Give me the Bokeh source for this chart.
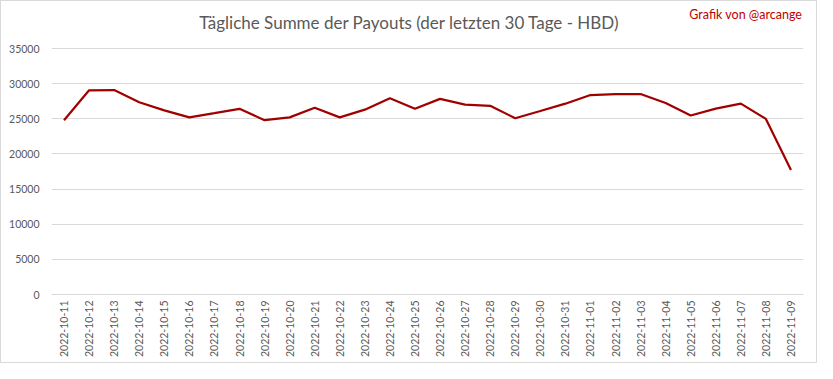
from bokeh.plotting import figure
from bokeh.models import Label, Range1d, FactorRange, FixedTicker
from bokeh.embed import file_html
from bokeh.resources import INLINE
from math import pi

dates = ["2022-10-11", "2022-10-12", "2022-10-13", "2022-10-14", "2022-10-15",
         "2022-10-16", "2022-10-17", "2022-10-18", "2022-10-19", "2022-10-20",
         "2022-10-21", "2022-10-22", "2022-10-23", "2022-10-24", "2022-10-25",
         "2022-10-26", "2022-10-27", "2022-10-28", "2022-10-29", "2022-10-30",
         "2022-10-31", "2022-11-01", "2022-11-02", "2022-11-03", "2022-11-04",
         "2022-11-05", "2022-11-06", "2022-11-07", "2022-11-08", "2022-11-09"]
payouts = [24800, 29050, 29080, 27350, 26200,
           25200, 25800, 26420, 24800, 25200,
           26580, 25200, 26300, 27920, 26420,
           27830, 27020, 26850, 25080, 26100,
           27150, 28380, 28520, 28520, 27250,
           25460, 26450, 27150, 24980, 17700]
y_ticks = [0, 5000, 10000, 15000, 20000, 25000, 30000, 35000]

title_text = "Tägliche Summe der Payouts (der letzten 30 Tage - HBD)"
credit_text = "Grafik von @arcange"

FONT = "Lato"
GRAY = "#595959"

# frame extends to the top of the canvas so that the title texts are drawn inside it
H, TOP_GAP, BOTTOM = 363, 47, 70
frame_h = H - BOTTOM
y_end = 35000 * frame_h / (frame_h - TOP_GAP)
per_px = y_end / frame_h

p = figure(width=817, height=H, x_range=FactorRange(*dates, range_padding=0),
           y_range=Range1d(0, y_end), output_backend="svg", toolbar_location=None,
           min_border_left=50, min_border_right=15, min_border_top=0, min_border_bottom=BOTTOM,
           styles={"border": "1px solid #d9d9d9", "box-sizing": "border-box"})

p.line(dates, payouts, line_color="#a00000", line_width=2.2)

p.outline_line_color = None
p.xgrid.grid_line_color = None
p.ygrid.grid_line_color = "#d9d9d9"
p.ygrid.grid_line_width = 1

p.yaxis.ticker = FixedTicker(ticks=y_ticks)
p.yaxis.axis_line_color = None
p.yaxis.major_tick_line_color = None
p.yaxis.minor_tick_line_color = None
p.yaxis.major_tick_out = 0
p.yaxis.major_label_standoff = 12
p.yaxis.major_label_text_font = FONT
p.yaxis.major_label_text_font_size = "10.5px"
p.yaxis.major_label_text_color = GRAY

p.xaxis.axis_line_color = "#d9d9d9"
p.xaxis.major_tick_line_color = None
p.xaxis.minor_tick_line_color = None
p.xaxis.major_tick_out = 0
p.xaxis.major_label_orientation = pi / 2
p.xaxis.major_label_standoff = 6
p.xaxis.major_label_text_font = FONT
p.xaxis.major_label_text_font_size = "10.5px"
p.xaxis.major_label_text_color = GRAY

n = len(dates)
p.add_layout(Label(x=n * (408 - 50) / 752, y=per_px * (frame_h - 21), text=title_text,
                   text_align="center", text_baseline="middle", text_font=FONT,
                   text_font_size="17px", text_color=GRAY))
p.add_layout(Label(x=n - 0.05, y=per_px * (frame_h - 13), text=credit_text,
                   text_align="right", text_baseline="middle", text_font=FONT,
                   text_font_size="12.5px", text_color="#c00000"))

open("out.html", "w").write(file_html(p, INLINE))
